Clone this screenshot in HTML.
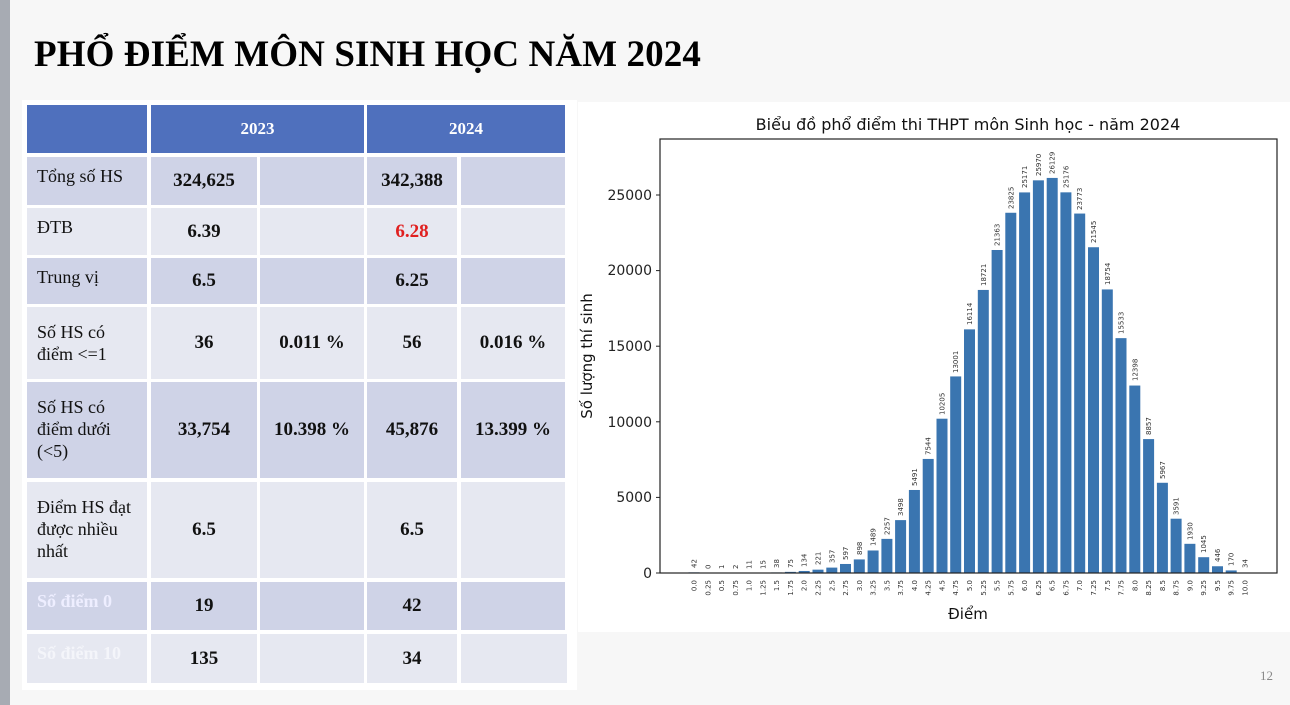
<!DOCTYPE html>
<html><head><meta charset="utf-8"><style>
body{margin:0;width:1290px;height:705px;background:#f7f7f7;position:relative;overflow:hidden;font-family:"Liberation Serif",serif}
.strip{position:absolute;left:0;top:0;width:10px;height:705px;background:#a7abb3}
h1{position:absolute;left:34px;top:33px;margin:0;font-size:37px;letter-spacing:0.1px;font-weight:bold;color:#000;font-family:"Liberation Serif",serif}
.c{position:absolute;box-sizing:border-box;display:flex;align-items:center;justify-content:center;font-weight:bold;font-size:19px;color:#111}
.l{justify-content:flex-start;align-items:flex-start;padding:8px 0 0 10px;font-weight:normal;font-size:18px;line-height:22px}
.h{background:#4f70bd;color:#fff;font-size:17px}
.a{background:#cfd3e7}.b{background:#e6e8f1}
.pn{position:absolute;left:1260px;top:668px;font-size:13px;color:#888}
</style></head><body>
<div class="strip"></div>
<h1>PHỔ ĐIỂM MÔN SINH HỌC NĂM 2024</h1>
<div style="position:absolute;left:22px;top:100px;width:555px;height:590px;background:#fff"></div>

<div class="c h" style="left:27px;top:105px;width:120px;height:48px"></div>
<div class="c h" style="left:151px;top:105px;width:213px;height:48px">2023</div>
<div class="c h" style="left:367px;top:105px;width:198px;height:48px">2024</div>

<div class="c l a" style="left:27px;top:157px;width:120px;height:48px">Tổng số HS</div>
<div class="c a" style="left:151px;top:157px;width:106px;height:48px">324,625</div>
<div class="c a" style="left:260px;top:157px;width:104px;height:48px"></div>
<div class="c a" style="left:367px;top:157px;width:90px;height:48px">342,388</div>
<div class="c a" style="left:461px;top:157px;width:104px;height:48px"></div>

<div class="c l b" style="left:27px;top:208px;width:120px;height:47px">ĐTB</div>
<div class="c b" style="left:151px;top:208px;width:106px;height:47px">6.39</div>
<div class="c b" style="left:260px;top:208px;width:104px;height:47px"></div>
<div class="c b" style="left:367px;top:208px;width:90px;height:47px;color:#e02020">6.28</div>
<div class="c b" style="left:461px;top:208px;width:104px;height:47px"></div>

<div class="c l a" style="left:27px;top:258px;width:120px;height:46px">Trung vị</div>
<div class="c a" style="left:151px;top:258px;width:106px;height:46px">6.5</div>
<div class="c a" style="left:260px;top:258px;width:104px;height:46px"></div>
<div class="c a" style="left:367px;top:258px;width:90px;height:46px">6.25</div>
<div class="c a" style="left:461px;top:258px;width:104px;height:46px"></div>

<div class="c l b" style="left:27px;top:307px;width:120px;height:72px;padding-top:14px">Số HS có<br>điểm &lt;=1</div>
<div class="c b" style="left:151px;top:307px;width:106px;height:72px">36</div>
<div class="c b" style="left:260px;top:307px;width:104px;height:72px">0.011 %</div>
<div class="c b" style="left:367px;top:307px;width:90px;height:72px">56</div>
<div class="c b" style="left:461px;top:307px;width:104px;height:72px">0.016 %</div>

<div class="c l a" style="left:27px;top:382px;width:120px;height:96px;padding-top:14px">Số HS có<br>điểm dưới<br>(&lt;5)</div>
<div class="c a" style="left:151px;top:382px;width:106px;height:96px">33,754</div>
<div class="c a" style="left:260px;top:382px;width:104px;height:96px">10.398 %</div>
<div class="c a" style="left:367px;top:382px;width:90px;height:96px">45,876</div>
<div class="c a" style="left:461px;top:382px;width:104px;height:96px">13.399 %</div>

<div class="c l b" style="left:27px;top:482px;width:120px;height:96px;padding-top:14px">Điểm HS đạt<br>được nhiều<br>nhất</div>
<div class="c b" style="left:151px;top:482px;width:106px;height:96px">6.5</div>
<div class="c b" style="left:260px;top:482px;width:104px;height:96px"></div>
<div class="c b" style="left:367px;top:482px;width:90px;height:96px">6.5</div>
<div class="c b" style="left:461px;top:482px;width:104px;height:96px"></div>

<div class="c l a" style="left:27px;top:582px;width:120px;height:48px;color:#eef;font-weight:bold">Số điểm 0</div>
<div class="c a" style="left:151px;top:582px;width:106px;height:48px">19</div>
<div class="c a" style="left:260px;top:582px;width:104px;height:48px"></div>
<div class="c a" style="left:367px;top:582px;width:90px;height:48px">42</div>
<div class="c a" style="left:461px;top:582px;width:104px;height:48px"></div>

<div class="c l b" style="left:27px;top:634px;width:120px;height:49px;color:#f4f5fa;font-weight:bold">Số điểm 10</div>
<div class="c b" style="left:151px;top:634px;width:106px;height:49px">135</div>
<div class="c b" style="left:260px;top:634px;width:104px;height:49px"></div>
<div class="c b" style="left:367px;top:634px;width:90px;height:49px">34</div>
<div class="c b" style="left:461px;top:634px;width:106px;height:49px"></div>

<svg style="position:absolute;left:0;top:0" width="1290" height="705" font-family="DejaVu Sans, sans-serif">
<rect x="578" y="102" width="712" height="530" fill="#fff"/>
<text x="968" y="130" font-size="16" text-anchor="middle" fill="#111">Biểu đồ phổ điểm thi THPT môn Sinh học - năm 2024</text>
<g transform="translate(-5.5,573) scale(1,-0.01512)" fill="#3a75b0">
<rect x="694" width="11" height="42"/><rect x="707.8" width="11" height="0"/><rect x="721.6" width="11" height="1"/><rect x="735.3" width="11" height="2"/><rect x="749.1" width="11" height="11"/><rect x="762.9" width="11" height="15"/><rect x="776.7" width="11" height="38"/><rect x="790.4" width="11" height="75"/><rect x="804.2" width="11" height="134"/><rect x="818" width="11" height="221"/><rect x="831.8" width="11" height="357"/><rect x="845.5" width="11" height="597"/><rect x="859.3" width="11" height="898"/><rect x="873.1" width="11" height="1489"/><rect x="886.9" width="11" height="2257"/><rect x="900.6" width="11" height="3498"/><rect x="914.4" width="11" height="5491"/><rect x="928.2" width="11" height="7544"/><rect x="942" width="11" height="10205"/><rect x="955.7" width="11" height="13001"/><rect x="969.5" width="11" height="16114"/><rect x="983.3" width="11" height="18721"/><rect x="997.1" width="11" height="21363"/><rect x="1010.8" width="11" height="23825"/><rect x="1024.6" width="11" height="25171"/><rect x="1038.4" width="11" height="25970"/><rect x="1052.2" width="11" height="26129"/><rect x="1065.9" width="11" height="25176"/><rect x="1079.7" width="11" height="23773"/><rect x="1093.5" width="11" height="21545"/><rect x="1107.3" width="11" height="18754"/><rect x="1121" width="11" height="15533"/><rect x="1134.8" width="11" height="12398"/><rect x="1148.6" width="11" height="8857"/><rect x="1162.4" width="11" height="5967"/><rect x="1176.1" width="11" height="3591"/><rect x="1189.9" width="11" height="1930"/><rect x="1203.7" width="11" height="1045"/><rect x="1217.5" width="11" height="446"/><rect x="1231.2" width="11" height="170"/><rect x="1245" width="11" height="34"/>
</g>
<rect x="660" y="139" width="617" height="434" fill="none" stroke="#222" stroke-width="1.2"/>
<g font-size="14" text-anchor="end" fill="#222">
<text x="652" y="578">0</text><text x="652" y="502">5000</text><text x="652" y="427">10000</text><text x="652" y="351">15000</text><text x="652" y="275">20000</text><text x="652" y="200">25000</text>
</g>
<g stroke="#222"><line x1="656" x2="660" y1="573" y2="573"/><line x1="656" x2="660" y1="497.4" y2="497.4"/><line x1="656" x2="660" y1="421.8" y2="421.8"/><line x1="656" x2="660" y1="346.2" y2="346.2"/><line x1="656" x2="660" y1="270.6" y2="270.6"/><line x1="656" x2="660" y1="195" y2="195"/></g>
<text transform="translate(592,356) rotate(-90)" font-size="15" text-anchor="middle" fill="#111">Số lượng thí sinh</text>
<text x="968" y="619" font-size="15" text-anchor="middle" fill="#111">Điểm</text>
<g font-size="7" fill="#333" text-anchor="end">
<text transform="translate(696.5,580) rotate(-90)">0.0</text><text transform="translate(710.3,580) rotate(-90)">0.25</text><text transform="translate(724.1,580) rotate(-90)">0.5</text><text transform="translate(737.8,580) rotate(-90)">0.75</text><text transform="translate(751.6,580) rotate(-90)">1.0</text><text transform="translate(765.4,580) rotate(-90)">1.25</text><text transform="translate(779.2,580) rotate(-90)">1.5</text><text transform="translate(792.9,580) rotate(-90)">1.75</text><text transform="translate(806.7,580) rotate(-90)">2.0</text><text transform="translate(820.5,580) rotate(-90)">2.25</text><text transform="translate(834.3,580) rotate(-90)">2.5</text><text transform="translate(848,580) rotate(-90)">2.75</text><text transform="translate(861.8,580) rotate(-90)">3.0</text><text transform="translate(875.6,580) rotate(-90)">3.25</text><text transform="translate(889.4,580) rotate(-90)">3.5</text><text transform="translate(903.1,580) rotate(-90)">3.75</text><text transform="translate(916.9,580) rotate(-90)">4.0</text><text transform="translate(930.7,580) rotate(-90)">4.25</text><text transform="translate(944.5,580) rotate(-90)">4.5</text><text transform="translate(958.2,580) rotate(-90)">4.75</text><text transform="translate(972,580) rotate(-90)">5.0</text><text transform="translate(985.8,580) rotate(-90)">5.25</text><text transform="translate(999.6,580) rotate(-90)">5.5</text><text transform="translate(1013.3,580) rotate(-90)">5.75</text><text transform="translate(1027.1,580) rotate(-90)">6.0</text><text transform="translate(1040.9,580) rotate(-90)">6.25</text><text transform="translate(1054.7,580) rotate(-90)">6.5</text><text transform="translate(1068.4,580) rotate(-90)">6.75</text><text transform="translate(1082.2,580) rotate(-90)">7.0</text><text transform="translate(1096,580) rotate(-90)">7.25</text><text transform="translate(1109.8,580) rotate(-90)">7.5</text><text transform="translate(1123.5,580) rotate(-90)">7.75</text><text transform="translate(1137.3,580) rotate(-90)">8.0</text><text transform="translate(1151.1,580) rotate(-90)">8.25</text><text transform="translate(1164.9,580) rotate(-90)">8.5</text><text transform="translate(1178.6,580) rotate(-90)">8.75</text><text transform="translate(1192.4,580) rotate(-90)">9.0</text><text transform="translate(1206.2,580) rotate(-90)">9.25</text><text transform="translate(1220,580) rotate(-90)">9.5</text><text transform="translate(1233.7,580) rotate(-90)">9.75</text><text transform="translate(1247.5,580) rotate(-90)">10.0</text>
</g>
<g font-size="7" fill="#333" text-anchor="start">
<text transform="translate(696.5,568) rotate(-90)">42</text><text transform="translate(710.3,569) rotate(-90)">0</text><text transform="translate(724.1,569) rotate(-90)">1</text><text transform="translate(737.8,569) rotate(-90)">2</text><text transform="translate(751.6,569) rotate(-90)">11</text><text transform="translate(765.4,569) rotate(-90)">15</text><text transform="translate(779.2,568) rotate(-90)">38</text><text transform="translate(792.9,568) rotate(-90)">75</text><text transform="translate(806.7,567) rotate(-90)">134</text><text transform="translate(820.5,565) rotate(-90)">221</text><text transform="translate(834.3,563) rotate(-90)">357</text><text transform="translate(848,560) rotate(-90)">597</text><text transform="translate(861.8,555) rotate(-90)">898</text><text transform="translate(875.6,546) rotate(-90)">1489</text><text transform="translate(889.4,535) rotate(-90)">2257</text><text transform="translate(903.1,516) rotate(-90)">3498</text><text transform="translate(916.9,486) rotate(-90)">5491</text><text transform="translate(930.7,455) rotate(-90)">7544</text><text transform="translate(944.5,415) rotate(-90)">10205</text><text transform="translate(958.2,373) rotate(-90)">13001</text><text transform="translate(972,325) rotate(-90)">16114</text><text transform="translate(985.8,286) rotate(-90)">18721</text><text transform="translate(999.6,246) rotate(-90)">21363</text><text transform="translate(1013.3,209) rotate(-90)">23825</text><text transform="translate(1027.1,188) rotate(-90)">25171</text><text transform="translate(1040.9,176) rotate(-90)">25970</text><text transform="translate(1054.7,174) rotate(-90)">26129</text><text transform="translate(1068.4,188) rotate(-90)">25176</text><text transform="translate(1082.2,210) rotate(-90)">23773</text><text transform="translate(1096,243) rotate(-90)">21545</text><text transform="translate(1109.8,285) rotate(-90)">18754</text><text transform="translate(1123.5,334) rotate(-90)">15533</text><text transform="translate(1137.3,381) rotate(-90)">12398</text><text transform="translate(1151.1,435) rotate(-90)">8857</text><text transform="translate(1164.9,479) rotate(-90)">5967</text><text transform="translate(1178.6,515) rotate(-90)">3591</text><text transform="translate(1192.4,540) rotate(-90)">1930</text><text transform="translate(1206.2,553) rotate(-90)">1045</text><text transform="translate(1220,562) rotate(-90)">446</text><text transform="translate(1233.7,566) rotate(-90)">170</text><text transform="translate(1247.5,568) rotate(-90)">34</text>
</g>
</svg>
<div class="pn">12</div>
</body></html>
